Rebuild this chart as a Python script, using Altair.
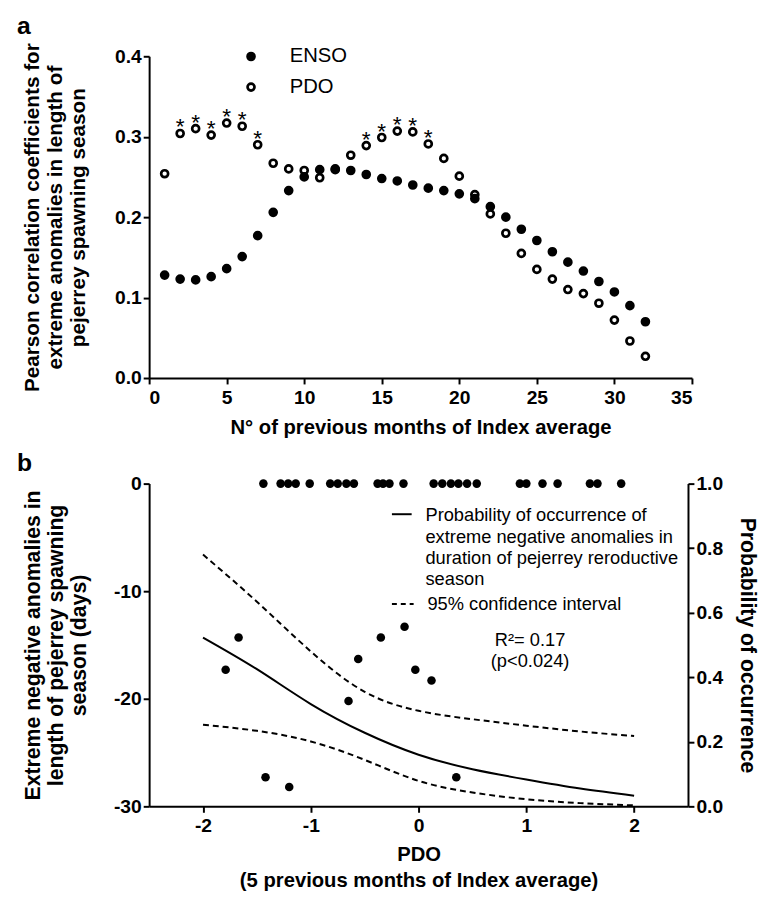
import altair as alt
import pandas as pd

FONT = "Liberation Sans"

# ---------------- Panel a data ----------------
months = list(range(1, 33))
enso = [0.128, 0.123, 0.122, 0.126, 0.136, 0.151, 0.177, 0.206, 0.233, 0.250,
        0.259, 0.259, 0.258, 0.253, 0.248, 0.245, 0.240, 0.236, 0.233, 0.229,
        0.223, 0.213, 0.200, 0.185, 0.171, 0.157, 0.144, 0.133, 0.120, 0.107,
        0.090, 0.070]
pdo = [0.254, 0.304, 0.310, 0.302, 0.317, 0.313, 0.290, 0.267, 0.260, 0.258,
       0.249, 0.260, 0.277, 0.289, 0.299, 0.307, 0.306, 0.291, 0.273, 0.251,
       0.228, 0.204, 0.180, 0.155, 0.135, 0.123, 0.110, 0.105, 0.093, 0.072,
       0.046, 0.027]
sig_months = [2, 3, 4, 5, 6, 7, 14, 15, 16, 17, 18]
x_ticks_a = [0, 5, 10, 15, 20, 25, 30, 35]
y_ticks_a = [0.0, 0.1, 0.2, 0.3, 0.4]

# ---------------- Panel b data ----------------
event_pdo = [-1.44, -1.28, -1.21, -1.14, -1.01, -0.82, -0.75, -0.67, -0.60,
             -0.38, -0.33, -0.27, -0.14, 0.14, 0.22, 0.30, 0.37, 0.45, 0.54,
             0.94, 1.00, 1.15, 1.29, 1.59, 1.66, 1.88]
event_days = [0] * len(event_pdo)
neg_pdo = [-1.79, -1.67, -1.42, -1.20, -0.65, -0.56, -0.35, -0.13, -0.03, 0.12, 0.35]
neg_days = [-17.3, -14.3, -27.3, -28.2, -20.2, -16.3, -14.3, -13.3, -17.3, -18.3, -27.3]

curve_pdo = [-2.0, -1.5, -1.0, -0.5, 0.0, 0.5, 1.0, 1.5, 2.0]
prob_fit = [0.523, 0.425, 0.317, 0.228, 0.160, 0.115, 0.083, 0.055, 0.033]
prob_upper = [0.780, 0.634, 0.480, 0.355, 0.296, 0.270, 0.250, 0.232, 0.218]
prob_lower = [0.253, 0.234, 0.201, 0.144, 0.079, 0.043, 0.022, 0.010, 0.003]
x_ticks_b = [-2, -1, 0, 1, 2]
y_ticks_b = [-30, -20, -10, 0]
p_ticks_b = [0.0, 0.2, 0.4, 0.6, 0.8, 1.0]

legend_fit = ["Probability of occurrence of",
              "extreme negative anomalies in",
              "duration of pejerrey reroductive",
              "season"]
legend_ci = "95% confidence interval"
stats_text = ["R\u00b2= 0.17", "(p<0.024)"]

# ---------------- Panel a ----------------
df_a = pd.DataFrame({
    "month": months + months,
    "r": pdo + enso,
    "index": ["PDO"] * len(months) + ["ENSO"] * len(months),
})
df_star = pd.DataFrame({
    "month": sig_months,
    "r": [pdo[m - 1] for m in sig_months],
})

x_a = alt.X("month:Q", scale=alt.Scale(domain=[0, 35], nice=False, zero=False),
            axis=alt.Axis(values=x_ticks_a, title="N° of previous months of Index average",
                          titlePadding=11, labelPadding=5))
y_a = alt.Y("r:Q", scale=alt.Scale(domain=[0, 0.4], nice=False),
            axis=alt.Axis(values=y_ticks_a, format=".1f",
                          title=["Pearson correlation coefficients for",
                                 "extreme anomalies in length of",
                                 "pejerrey spawning season"],
                          titleFontSize=21, titleLineHeight=23.5,
                          minExtent=38, maxExtent=38, titlePadding=23))

pts_a = alt.Chart(df_a).mark_point(
    shape="circle", filled=True, size=50, stroke="black", strokeWidth=2.7, opacity=1
).encode(
    x=x_a, y=y_a,
    fill=alt.Fill("index:N",
                  scale=alt.Scale(domain=["ENSO", "PDO"], range=["black", "white"]),
                  legend=alt.Legend(title=None, orient="none", legendX=93, legendY=-10,
                                    labelFont=FONT, labelFontSize=20.5,
                                    labelFontWeight="normal", labelColor="black",
                                    symbolType="circle", symbolSize=50,
                                    symbolStrokeColor="black", symbolStrokeWidth=2.7,
                                    rowPadding=10, labelOffset=29, padding=0)),
)

stars = alt.Chart(df_star).mark_text(
    text="*", fontSize=23, font=FONT, color="black", baseline="alphabetic", dy=1
).encode(x="month:Q", y="r:Q")

label_a = alt.Chart(pd.DataFrame({"t": ["a"]})).mark_text(
    font=FONT, fontSize=25, fontWeight="bold", align="left", baseline="alphabetic", color="black"
).encode(x=alt.value(-134), y=alt.value(-23), text="t:N")

panel_a = alt.layer(pts_a, stars, label_a).properties(width=550, height=326)

# ---------------- Panel b ----------------
df_pts_b = pd.DataFrame({
    "pdo": event_pdo + neg_pdo,
    "days": event_days + neg_days,
})
df_curve = pd.DataFrame({
    "pdo": curve_pdo * 3,
    "p": prob_fit + prob_upper + prob_lower,
    "series": ["fit"] * len(curve_pdo) + ["upper"] * len(curve_pdo) + ["lower"] * len(curve_pdo),
})

x_b = alt.X("pdo:Q", scale=alt.Scale(domain=[-2.5, 2.5], nice=False, zero=False),
            axis=alt.Axis(values=x_ticks_b, labelExpr="toString(datum.value)",
                          title=["PDO", "(5 previous months of Index average)"],
                          titleLineHeight=27, titlePadding=10, labelPadding=4))

pts_b = alt.Chart(df_pts_b).mark_circle(size=75, color="black", opacity=1).encode(
    x=x_b,
    y=alt.Y("days:Q", scale=alt.Scale(domain=[-30, 0], nice=False),
            axis=alt.Axis(values=y_ticks_b, labelExpr="toString(datum.value)",
                          title=["Extreme negative anomalies in",
                                 "length of pejerrey spawning",
                                 "season (days)"],
                          titleFontSize=21.5, titleLineHeight=23.5,
                          minExtent=38, maxExtent=38, titlePadding=21)),
)

y_p = alt.Y("p:Q", scale=alt.Scale(domain=[0, 1], nice=False),
            axis=alt.Axis(orient="right", values=p_ticks_b, format=".1f",
                          title="Probability of occurrence", titleFontSize=21.5,
                          titlePadding=13))

fit_line = alt.Chart(df_curve).transform_filter(alt.datum.series == "fit").mark_line(
    color="black", strokeWidth=2, interpolate="natural"
).encode(x="pdo:Q", y=y_p)

ci_lines = alt.Chart(df_curve).transform_filter(alt.datum.series != "fit").mark_line(
    color="black", strokeWidth=2, strokeDash=[6, 4], interpolate="natural"
).encode(x="pdo:Q", y="p:Q", detail="series:N")

one = pd.DataFrame({"k": [0]})
leg_solid = alt.Chart(one).mark_rule(color="black", strokeWidth=2).encode(
    x=alt.value(246), x2=alt.value(266), y=alt.value(31))
leg_dash = alt.Chart(one).mark_rule(color="black", strokeWidth=2, strokeDash=[5, 4]).encode(
    x=alt.value(246), x2=alt.value(268), y=alt.value(122))
leg_text1 = alt.Chart(one).mark_text(
    font=FONT, fontSize=18.5, align="left", baseline="alphabetic", lineHeight=21.7, color="black"
).encode(x=alt.value(280), y=alt.value(38), text=alt.value(legend_fit))
leg_text2 = alt.Chart(one).mark_text(
    font=FONT, fontSize=18.5, align="left", baseline="alphabetic", color="black"
).encode(x=alt.value(282), y=alt.value(128), text=alt.value(legend_ci))
stat = alt.Chart(one).mark_text(
    font=FONT, fontSize=18.5, align="center", baseline="alphabetic", lineHeight=21, color="black"
).encode(x=alt.value(386), y=alt.value(165), text=alt.value(stats_text))
label_b = alt.Chart(pd.DataFrame({"t": ["b"]})).mark_text(
    font=FONT, fontSize=25, fontWeight="bold", align="left", baseline="alphabetic", color="black"
).encode(x=alt.value(-134), y=alt.value(-13), text="t:N")

left_b = alt.layer(pts_b, leg_solid, leg_dash, leg_text1, leg_text2, stat, label_b)
right_b = alt.layer(fit_line, ci_lines)
panel_b = alt.layer(left_b, right_b).resolve_scale(y="independent").properties(width=546, height=327)

chart = alt.vconcat(panel_a, panel_b, spacing=13).properties(
    padding={"left": 9, "top": 0, "right": 5, "bottom": 5}
).configure_view(stroke=None).configure_axis(
    grid=False, domainColor="black", domainWidth=2, tickColor="black", tickWidth=2,
    tickSize=6, labelFont=FONT, labelFontSize=19.5, labelFontWeight="bold",
    labelColor="black", titleFont=FONT, titleFontSize=20.5, titleFontWeight="bold",
    titleColor="black"
)

chart.save("out.html", embed_options={"renderer": "svg", "actions": False})
